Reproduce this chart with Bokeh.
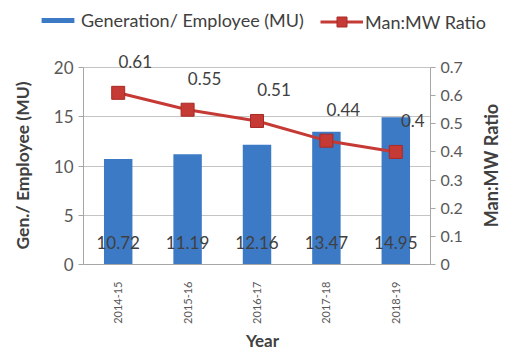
import math
from bokeh.plotting import figure
from bokeh.models import (ColumnDataSource, Range1d, LinearAxis, FixedTicker,
                          Legend, LegendItem, FactorRange, Label)
from bokeh.core.properties import value
from bokeh.embed import file_html
from bokeh.resources import INLINE

years = ["2014-15", "2015-16", "2016-17", "2017-18", "2018-19"]
gen_per_employee = [10.72, 11.19, 12.16, 13.47, 14.95]
man_mw_ratio = [0.61, 0.55, 0.51, 0.44, 0.40]
gen_labels = ["10.72", "11.19", "12.16", "13.47", "14.95"]
ratio_labels = ["0.61", "0.55", "0.51", "0.44", "0.4"]
left_ticks = [0, 5, 10, 15, 20]
right_ticks = [0, 0.1, 0.2, 0.3, 0.4, 0.5, 0.6, 0.7]
LEFT_MAX = 20
RIGHT_MAX = 0.7

FONT = "Lato"
TXT = "#595959"
DARK = "#404040"
AXC = "#a6a6a6"
BLUE = "#3c7ac6"
RED = "#c63a36"
RED_EDGE = "#a82a27"

# ---- layout (pixels): frame covers the canvas, axes fixed inside it
W, H = 505, 350
FRAME_L, FRAME_B = 8, 0
AX_L, AX_R, AX_TOP, AX_BOT = 83, 430, 67, 264
n = len(years)
cat_px = (AX_R - AX_L) / n
pad = (AX_L - FRAME_L) / cat_px     # equal both sides: 505-430 == 83-8
px_per_unit = (AX_BOT - AX_TOP) / LEFT_MAX
y_lo = -((H - FRAME_B) - AX_BOT) / px_per_unit
y_hi = LEFT_MAX + AX_TOP / px_per_unit
scale_r = RIGHT_MAX / LEFT_MAX


def sx(px):  # page x -> frame screen x
    return px - FRAME_L


def sy(py):  # page y -> frame screen y (from bottom)
    return (H - FRAME_B) - py


src = ColumnDataSource(dict(year=years, gen=gen_per_employee, ratio=man_mw_ratio,
                            gl=gen_labels, rl=ratio_labels, zero=[0] * n))

p = figure(width=W, height=H,
           x_range=FactorRange(*years, range_padding=2 * pad / n,
                               range_padding_units="percent"),
           y_range=Range1d(y_lo, y_hi), output_backend="svg",
           toolbar_location=None, min_border_left=FRAME_L, min_border_right=0,
           min_border_top=0, min_border_bottom=FRAME_B)
p.extra_y_ranges = {"ratio": Range1d(y_lo * scale_r, y_hi * scale_r)}
p.outline_line_color = None

# grid
p.xgrid.grid_line_color = None
g = p.ygrid[0]
g.grid_line_color = "#c4c4c4"
g.ticker = FixedTicker(ticks=left_ticks[1:])
if "cross_bounds" in g.properties():
    g.cross_bounds = (0, n)
    g.bounds = (0, LEFT_MAX)
else:
    g.visible = False
    p.segment(x0=[0] * (len(left_ticks) - 1), x1=[n] * (len(left_ticks) - 1),
              y0=left_ticks[1:], y1=left_ticks[1:], line_color="#c4c4c4",
              line_width=1)

bars = p.vbar(x="year", top="gen", width=0.41, source=src, fill_color=BLUE,
              line_color=None)
r_line = p.line(x="year", y="ratio", source=src, y_range_name="ratio",
                line_color=RED, line_width=3)
r_mark = p.scatter(x="year", y="ratio", source=src, y_range_name="ratio",
                   marker="square", size=13, fill_color=RED, line_color=RED_EDGE,
                   line_width=1)

p.text(x="year", y="zero", text="gl", source=src, text_align="center",
       text_baseline="middle", y_offset=-22, text_font=value(FONT),
       text_font_size="17px", text_color=DARK)
p.text(x="year", y="ratio", text="rl", source=src, y_range_name="ratio",
       text_align="center", text_baseline="middle", x_offset=17, y_offset=-31,
       text_font=value(FONT), text_font_size="17px", text_color=DARK)

# left axis
ya = p.yaxis[0]
ya.fixed_location = 0
ya.ticker = FixedTicker(ticks=left_ticks)
ya.bounds = (0, LEFT_MAX)
ya.major_label_text_font = FONT
ya.major_label_text_font_size = "17px"
ya.major_label_text_color = TXT
ya.axis_line_color = AXC
ya.major_tick_line_color = AXC
ya.major_tick_out = 5
ya.major_tick_in = 0
ya.minor_tick_line_color = None
ya.major_label_standoff = 5

# right axis
ra = LinearAxis(y_range_name="ratio", ticker=FixedTicker(ticks=right_ticks))
ra.fixed_location = n
ra.bounds = (0, RIGHT_MAX)
ra.major_label_overrides = {0: "0"}
ra.major_label_text_font = FONT
ra.major_label_text_font_size = "16px"
ra.major_label_text_color = TXT
ra.axis_line_color = AXC
ra.major_tick_line_color = AXC
ra.major_tick_out = 5
ra.major_tick_in = 0
ra.minor_tick_line_color = None
ra.major_label_standoff = 5
p.add_layout(ra, "right")

# bottom axis
xa = p.xaxis[0]
xa.fixed_location = 0
xa.bounds = (0, n)
xa.major_label_orientation = 1.5708
xa.major_label_text_font = FONT
xa.major_label_text_font_size = "11px"
xa.major_label_text_color = TXT
xa.axis_line_color = AXC
xa.major_tick_line_color = None
xa.major_label_standoff = 11

# axis titles
title_kw = dict(x_units="screen", y_units="screen", text_font=FONT,
                text_font_style="bold", text_color=DARK, text_align="center",
                text_baseline="middle")
p.add_layout(Label(x=sx(22), y=sy(165), text="Gen./ Employee (MU)",
                   angle=math.pi / 2, text_font_size="17.5px", **title_kw))
p.add_layout(Label(x=sx(490), y=sy(165), text="Man:MW Ratio",
                   angle=math.pi / 2, text_font_size="18px", **title_kw))
p.add_layout(Label(x=sx(262), y=sy(340), text="Year",
                   text_font_size="17px", **title_kw))

# legends (location = bottom-left of legend box, relative to the frame)
leg1 = Legend(items=[LegendItem(label="Generation/ Employee (MU)", renderers=[bars])],
              location=(sx(37), sy(31)), glyph_width=41,
              glyph_height=6, orientation="horizontal", padding=0, margin=0,
              label_standoff=3, border_line_color=None, background_fill_alpha=0,
              label_text_font=FONT, label_text_font_size="18px",
              label_text_color=DARK, label_height=20)
leg2 = Legend(items=[LegendItem(label="Man:MW Ratio", renderers=[r_line, r_mark])],
              location=(sx(320), sy(34)), glyph_width=43,
              glyph_height=25, orientation="horizontal", padding=0, margin=0,
              label_standoff=2, border_line_color=None, background_fill_alpha=0,
              label_text_font=FONT, label_text_font_size="18px",
              label_text_color=DARK, label_height=20)
p.add_layout(leg1, "center")
p.add_layout(leg2, "center")

open("out.html", "w").write(file_html(p, INLINE))
